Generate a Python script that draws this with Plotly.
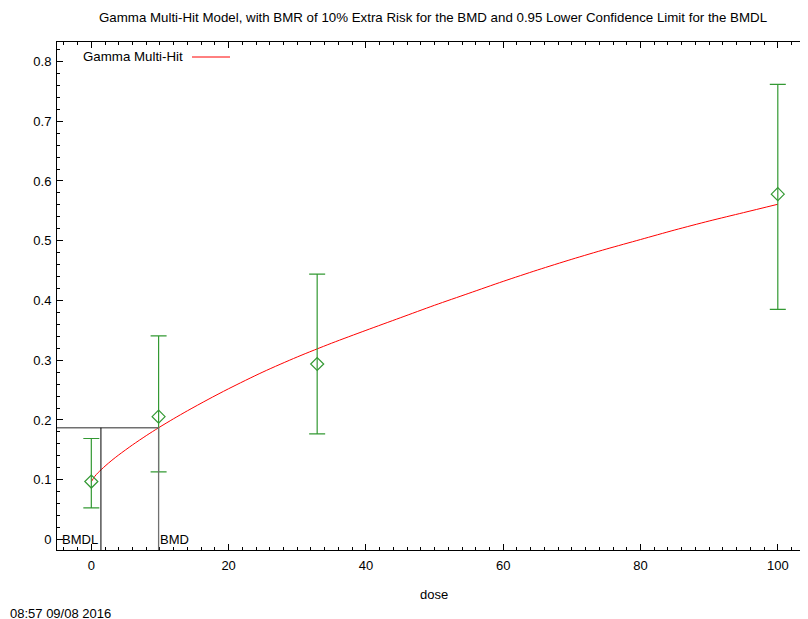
import plotly.graph_objects as go

# ---- data ----
dose = [0, 9.8, 32.9, 100]
resp = [0.097, 0.2055, 0.2937, 0.578]
ci_upper = [0.169, 0.3406, 0.444, 0.7618]
ci_lower = [0.053, 0.113, 0.1766, 0.385]

curve_dose = [0, 0.5, 1, 2, 3, 4, 6, 8, 9.8, 12, 14, 17, 20, 25, 30, 35,
              40, 45, 50, 55, 60, 65, 70, 75, 80, 85, 90, 95, 100]
curve_resp = [0.0967, 0.1056, 0.112, 0.1228, 0.1326, 0.1416, 0.1583, 0.1738,
              0.187, 0.2022, 0.2154, 0.2343, 0.2523, 0.2803, 0.3055, 0.3285,
              0.350, 0.371, 0.392, 0.412, 0.432, 0.451, 0.469, 0.486, 0.502,
              0.518, 0.533, 0.547, 0.561]

bmd = 9.8
bmdl = 1.4
bmr_level = 0.187

x_range = [-5, 104.4]
y_range = [-0.0176, 0.8326]
x_ticks = [0, 20, 40, 60, 80, 100]
y_ticks = [0, 0.1, 0.2, 0.3, 0.4, 0.5, 0.6, 0.7, 0.8]
y_ticktext = ["0", "0.1", "0.2", "0.3", "0.4", "0.5", "0.6", "0.7", "0.8"]

title = ("Gamma Multi-Hit Model, with BMR of 10% Extra Risk for the BMD "
         "and 0.95 Lower Confidence Limit for the BMDL")
legend_name = "Gamma Multi-Hit"
timestamp = "08:57 09/08 2016"

FONT = "Liberation Sans, Arial, sans-serif"
GREEN = "#339933"

OFF = 8  # page body margin
W, H = 800, 611
ML, MR, MT, MB = 49, 0, 34, 69
PW, PH = W - ML - MR, H - MT - MB


def px(xp):
    return (xp - OFF - ML) / PW


def py(yp):
    return (H - MB - (yp - OFF)) / PH


fig = go.Figure()

fig.add_trace(go.Scatter(
    x=curve_dose, y=curve_resp, mode="lines", line=dict(color="red", width=1),
    line_shape="spline", line_smoothing=0.8, showlegend=False,
    hoverinfo="skip"))

fig.add_trace(go.Scatter(
    x=dose, y=resp, mode="markers",
    marker=dict(symbol="diamond-open", size=10, color=GREEN,
                line=dict(color=GREEN, width=1.2)),
    error_y=dict(type="data", symmetric=False,
                 array=[u - r for u, r in zip(ci_upper, resp)],
                 arrayminus=[r - l for r, l in zip(resp, ci_lower)],
                 color=GREEN, thickness=1.2, width=8),
    showlegend=False))

shapes = [
    dict(type="line", xref="x", yref="y", x0=x_range[0], x1=bmd,
         y0=bmr_level, y1=bmr_level, line=dict(color="#707070", width=1.3)),
    dict(type="line", xref="x", yref="y", x0=bmd, x1=bmd,
         y0=y_range[0], y1=bmr_level, line=dict(color="#707070", width=1.3)),
    dict(type="line", xref="x", yref="y", x0=bmdl, x1=bmdl,
         y0=y_range[0], y1=bmr_level, line=dict(color="black", width=1)),
    # legend line sample
    dict(type="line", xref="paper", yref="paper", x0=px(192), x1=px(230),
         y0=py(57), y1=py(57), line=dict(color="red", width=1)),
]

annotations = [
    dict(text=title, xref="paper", yref="paper", x=px(433), y=py(17),
         showarrow=False, xanchor="center", yanchor="middle",
         font=dict(size=13.3, family=FONT, color="black")),
    dict(text=legend_name, xref="paper", yref="paper", x=px(185), y=py(57),
         showarrow=False, xanchor="right", yanchor="middle",
         font=dict(size=13.3, family=FONT, color="black")),
    dict(text="BMDL", xref="x", yref="y", x=bmdl, y=0, showarrow=False,
         xanchor="right", yanchor="middle", xshift=-1,
         font=dict(size=13, family=FONT, color="black")),
    dict(text="BMD", xref="x", yref="y", x=bmd, y=0, showarrow=False,
         xanchor="left", yanchor="middle", xshift=-1,
         font=dict(size=13, family=FONT, color="black")),
    dict(text="dose", xref="paper", yref="paper", x=px(434), y=py(594),
         showarrow=False, xanchor="center", yanchor="middle",
         font=dict(size=13, family=FONT, color="black")),
    dict(text=timestamp, xref="paper", yref="paper", x=px(8), y=py(613),
         showarrow=False, xanchor="left", yanchor="middle",
         font=dict(size=13, family=FONT, color="black")),
]

fig.update_layout(
    width=W, height=H, autosize=False,
    margin=dict(l=ML, r=MR, t=MT, b=MB, pad=0),
    paper_bgcolor="white", plot_bgcolor="white",
    font=dict(family=FONT, size=13, color="black"),
    shapes=shapes, annotations=annotations, showlegend=False,
)

fig.update_xaxes(
    range=x_range, tickvals=x_ticks, showgrid=False, zeroline=False,
    showline=True, linecolor="black", linewidth=1, mirror="allticks",
    ticks="inside", ticklen=6, tickcolor="black", tickwidth=1,
    tickfont=dict(size=13, family=FONT), ticklabelstandoff=3,
    minor=dict(dtick=2, ticks="inside", ticklen=3, tickcolor="black",
               showgrid=False),
)
fig.update_yaxes(
    range=y_range, tickvals=y_ticks, ticktext=y_ticktext, showgrid=False,
    zeroline=False, showline=True, linecolor="black", linewidth=1,
    mirror=False, ticks="inside", ticklen=6, tickcolor="black", tickwidth=1,
    tickfont=dict(size=13, family=FONT), ticklabelstandoff=2,
    minor=dict(dtick=0.02, ticks="inside", ticklen=3, tickcolor="black",
               showgrid=False),
)

fig.write_html("out.html")
